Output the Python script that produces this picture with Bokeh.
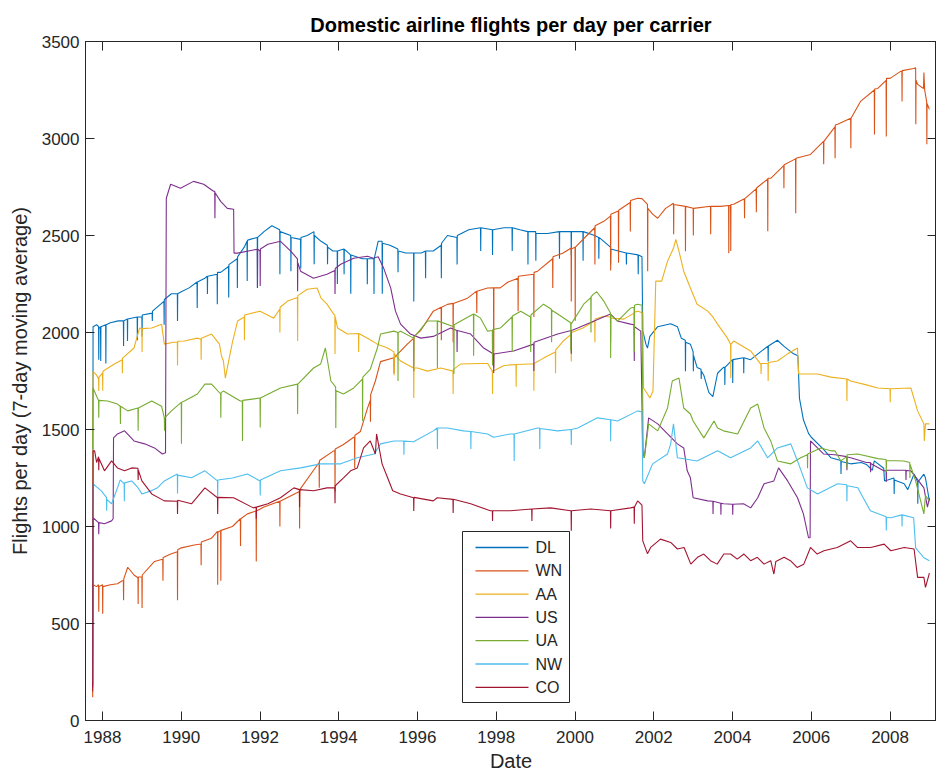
from bokeh.plotting import figure
from bokeh.models import Range1d, FixedTicker, LinearAxis, BoxAnnotation, Arrow, Label
from bokeh.embed import file_html
from bokeh.resources import INLINE

TITLE = "Domestic airline flights per day per carrier"
X_LABEL = "Date"
Y_LABEL = "Flights per day (7-day moving average)"
CARRIERS = ["DL", "WN", "AA", "US", "UA", "NW", "CO"]
COLORS = ["#0072BD", "#D95319", "#EDB120", "#7E2F8E", "#77AC30", "#4DBEEE", "#A2142F"]
YEAR_TICKS = [1988, 1990, 1992, 1994, 1996, 1998, 2000, 2002, 2004, 2006, 2008]
VALUE_TICKS = [0, 500, 1000, 1500, 2000, 2500, 3000, 3500]

# (decimal year, flights per day)
DL = [(1987.75,180),(1987.76,2030),(1987.85,2040),(1987.9,2030),(1987.905,1860),(1987.91,2020),
(1987.95,2030),(1987.955,1853),(1987.96,2030),(1988.08,2040),(1988.085,1840),(1988.09,2040),(1988.2,2050),(1988.4,2060),(1988.53,2060),(1988.535,1930),(1988.54,2060),
(1988.63,2070),(1988.635,1956),(1988.64,2070),(1988.88,2080),(1988.885,1960),(1988.89,2080),(1989.0,2080),(1989.005,1980),(1989.01,2090),
(1989.26,2100),(1989.265,2059),(1989.27,2110),(1989.5,2150),(1989.56,2160),(1989.565,2040),(1989.57,2170),(1989.75,2200),(1989.9,2200),(1989.905,2059),(1989.91,2200),
(1990.0,2210),(1990.2,2230),(1990.4,2260),(1990.405,2126),(1990.41,2260),(1990.6,2280),(1990.66,2290),(1990.665,2198),(1990.67,2290),(1990.91,2300),(1990.915,2146),(1990.92,2310),
(1991.0,2310),(1991.2,2340),(1991.205,2180),(1991.21,2350),(1991.42,2380),(1991.425,2229),(1991.43,2390),(1991.6,2440),(1991.67,2470),(1991.675,2265),(1991.68,2475),(1991.75,2480),(1991.93,2490),(1991.935,2230),(1991.94,2490),
(1992.1,2520),(1992.3,2550),(1992.5,2530),(1992.505,2300),(1992.51,2520),(1992.78,2500),(1992.785,2316),(1992.79,2490),(1993.03,2480),(1993.035,2330),(1993.04,2490),
(1993.2,2500),(1993.37,2520),(1993.375,2352),(1993.38,2500),(1993.55,2470),(1993.71,2450),(1993.715,2352),(1993.72,2440),(1993.85,2420),(1993.96,2420),(1993.965,2250),(1993.97,2420),
(1994.13,2430),(1994.135,2300),(1994.14,2430),(1994.3,2400),(1994.305,2200),(1994.31,2400),(1994.6,2380),(1994.72,2380),(1994.725,2249),(1994.73,2380),(1994.89,2380),(1994.895,2198),(1994.9,2380),
(1995.0,2470),(1995.1,2470),(1995.105,2200),(1995.11,2460),(1995.3,2450),(1995.5,2430),(1995.505,2310),(1995.51,2420),(1995.7,2410),(1995.9,2410),(1995.905,2160),(1995.91,2410),
(1996.1,2410),(1996.2,2420),(1996.205,2280),(1996.21,2420),(1996.4,2420),(1996.6,2450),(1996.605,2280),(1996.61,2460),(1996.76,2500),(1997.0,2490),(1997.005,2350),(1997.01,2500),
(1997.3,2530),(1997.6,2540),(1997.605,2420),(1997.61,2540),(1997.9,2530),(1997.905,2400),(1997.91,2530),
(1998.2,2540),(1998.4,2540),(1998.405,2420),(1998.41,2540),(1998.6,2530),(1998.8,2520),(1998.805,2350),(1998.81,2520),(1999.0,2520),(1999.005,2370),(1999.01,2510),
(1999.3,2510),(1999.6,2520),(1999.605,2380),(1999.61,2520),(1999.9,2520),(1999.905,2400),(1999.91,2520),(2000.2,2520),(2000.205,2370),(2000.21,2520),
(2000.5,2500),(2000.6,2490),(2000.605,2380),(2000.61,2490),(2000.9,2440),(2000.905,2350),(2000.91,2430),(2001.1,2420),(2001.3,2410),(2001.305,2350),(2001.31,2410),
(2001.6,2400),(2001.605,2300),(2001.61,2400),(2001.7,2390),(2001.72,2010),(2001.8,1940),(2001.84,1920),(2001.9,1980),
(2002.1,2030),(2002.43,2045),(2002.6,2030),(2002.7,1970),(2002.8,1960),(2002.805,1800),(2002.81,1950),(2002.93,1940),(2003.0,1900),(2003.005,1800),(2003.01,1880),
(2003.1,1820),(2003.2,1810),(2003.205,1760),(2003.21,1800),(2003.27,1780),(2003.4,1690),(2003.5,1670),(2003.62,1790),(2003.77,1820),(2003.8,1820),(2003.805,1730),(2003.81,1820),(2003.95,1850),(2004.0,1860),(2004.005,1740),(2004.01,1860),
(2004.28,1870),(2004.285,1790),(2004.29,1870),(2004.46,1860),(2004.71,1900),(2004.9,1930),(2004.905,1850),(2004.91,1930),(2005.14,1960),(2005.3,1930),(2005.55,1890),(2005.66,1880),
(2005.7,1660),(2005.8,1550),(2005.93,1480),(2006.0,1460),(2006.3,1400),(2006.5,1354),(2006.75,1340),(2006.755,1271),(2006.76,1335),(2007.0,1323),(2007.27,1330),(2007.4,1320),(2007.55,1290),(2007.6,1338),(2007.84,1300),(2007.86,1235),
(2008.1,1250),(2008.105,1168),(2008.11,1240),(2008.36,1220),(2008.45,1190),(2008.61,1271),(2008.7,1230),(2008.705,1117),(2008.71,1230),(2008.86,1270),(2008.9,1250),(2009.0,1130)]

WN = [(1987.75,120),(1987.76,700),(1987.85,690),(1987.9,700),(1987.905,560),(1987.91,690),(1988.0,700),(1988.005,550),(1988.01,690),
(1988.2,700),(1988.38,705),(1988.5,720),(1988.53,720),(1988.535,620),(1988.54,730),(1988.64,790),(1988.8,750),(1988.9,736),(1988.905,600),(1988.91,740),(1989.0,740),(1989.005,580),(1989.01,750),
(1989.32,820),(1989.5,830),(1989.53,830),(1989.535,720),(1989.54,840),(1989.75,860),(1989.9,870),(1989.905,620),(1989.91,880),(1990.0,890),
(1990.33,905),(1990.5,910),(1990.505,800),(1990.51,920),(1990.77,940),(1990.92,975),(1990.925,700),(1990.93,970),(1991.0,980),(1991.005,720),(1991.01,980),
(1991.3,1000),(1991.5,1040),(1991.505,900),(1991.51,1040),(1991.68,1065),(1991.9,1080),(1991.905,820),(1991.91,1080),(1992.1,1100),
(1992.5,1130),(1992.505,1000),(1992.51,1130),(1992.8,1160),(1993.0,1180),(1993.005,990),(1993.01,1190),(1993.36,1290),(1993.5,1330),(1993.505,1200),(1993.51,1340),
(1993.87,1390),(1993.9,1390),(1993.905,1180),(1993.91,1400),(1994.1,1420),(1994.38,1460),(1994.4,1460),(1994.405,1300),(1994.41,1470),(1994.55,1490),
(1994.73,1610),(1994.8,1650),(1994.805,1540),(1994.81,1680),(1994.93,1750),(1995.06,1850),
(1995.4,1870),(1995.405,1790),(1995.41,1870),(1995.74,1940),(1995.9,1970),(1995.905,1800),(1995.91,1980),(1996.08,2010),(1996.4,2110),(1996.6,2130),(1996.605,1960),(1996.61,2130),
(1996.76,2145),(1996.9,2150),(1996.905,1950),(1996.91,2150),(1997.27,2177),(1997.5,2213),(1997.505,2100),(1997.51,2213),(1997.78,2229),(1997.93,2230),(1997.935,1820),(1997.94,2230),
(1998.1,2230),(1998.3,2260),(1998.55,2280),(1998.555,2110),(1998.56,2290),(1998.95,2300),(1998.955,2080),(1998.96,2310),(1999.05,2316),
(1999.43,2380),(1999.435,2230),(1999.44,2390),(1999.7,2410),(1999.89,2434),(1999.9,2434),(1999.905,2160),(1999.91,2430),(2000.0,2440),(2000.005,2060),(2000.01,2440),
(2000.3,2500),(2000.5,2540),(2000.505,2350),(2000.51,2550),(2000.73,2573),(2000.9,2600),(2000.905,2320),(2000.91,2610),(2001.08,2625),(2001.1,2625),(2001.105,2360),(2001.11,2630),
(2001.4,2670),(2001.405,2520),(2001.41,2680),(2001.59,2692),(2001.7,2690),(2001.84,2660),(2001.845,2316),(2001.85,2640),(2001.97,2610),
(2002.1,2589),(2002.3,2640),(2002.5,2666),(2002.505,2507),(2002.51,2660),(2002.8,2650),(2002.805,2419),(2002.81,2650),(2003.0,2640),(2003.005,2500),(2003.01,2640),
(2003.44,2651),(2003.445,2507),(2003.45,2650),(2003.7,2650),(2003.9,2655),(2003.905,2409),(2003.91,2655),(2003.95,2655),(2003.955,2420),(2003.96,2660),(2004.03,2661),
(2004.3,2690),(2004.305,2589),(2004.31,2690),(2004.6,2740),(2004.605,2620),(2004.61,2745),(2004.89,2790),(2004.895,2522),(2004.9,2795),(2004.97,2795),
(2005.3,2860),(2005.305,2743),(2005.31,2865),(2005.6,2895),(2005.605,2615),(2005.61,2898),(2005.98,2918),(2006.31,2985),(2006.315,2867),(2006.32,2985),
(2006.6,3060),(2006.605,2898),(2006.61,3070),(2006.67,3073),(2007.0,3104),(2007.005,2950),(2007.01,3104),(2007.25,3191),(2007.6,3250),(2007.605,3021),(2007.61,3255),
(2007.69,3258),(2007.9,3300),(2007.905,3010),(2007.91,3310),(2008.0,3310),(2008.27,3346),(2008.3,3346),(2008.305,3191),(2008.31,3350),(2008.6,3361),
(2008.65,3365),(2008.655,3073),(2008.66,3300),(2008.7,3279),(2008.85,3258),(2008.86,3340),(2008.88,3250),(2008.93,3190),(2008.935,2970),(2008.94,3180),(2009.0,3150)]

AA = [(1987.75,150),(1987.76,1800),(1987.85,1780),(1987.9,1760),(1987.905,1698),(1987.91,1770),(1988.0,1790),(1988.005,1700),(1988.01,1800),
(1988.3,1838),(1988.5,1860),(1988.505,1790),(1988.51,1868),(1988.8,1920),(1988.94,2023),(1989.0,2020),(1989.005,1900),(1989.01,2020),(1989.25,2023),
(1989.5,2043),(1989.57,1940),(1989.8,1950),(1989.9,1950),(1989.905,1830),(1989.91,1955),(1990.08,1956),(1990.41,1971),(1990.5,1965),(1990.505,1860),(1990.51,1970),
(1990.77,1992),(1990.97,1940),(1991.02,1880),(1991.07,1853),(1991.12,1765),(1991.2,1850),(1991.3,1950),(1991.43,2059),(1991.6,2080),(1991.605,1960),(1991.61,2090),
(1992.0,2110),(1992.35,2074),(1992.5,2120),(1992.505,2000),(1992.51,2130),(1992.7,2162),(1992.95,2180),(1992.955,1956),(1992.96,2190),(1993.2,2223),(1993.45,2229),(1993.55,2177),
(1993.7,2146),(1993.87,2095),(1993.9,2090),(1993.905,1889),(1993.91,2080),(1993.97,2023),(1994.22,1992),(1994.5,1995),(1994.505,1900),(1994.51,1995),(1994.73,1970),(1994.98,1940),
(1995.24,1920),(1995.4,1900),(1995.405,1780),(1995.41,1890),(1995.57,1853),(1995.9,1817),(1995.905,1662),(1995.91,1817),(1996.0,1817),(1996.25,1801),(1996.59,1817),
(1996.9,1801),(1996.905,1683),(1996.91,1810),(1997.1,1838),(1997.6,1840),(1997.78,1840),(1997.9,1801),(1997.905,1683),(1997.91,1800),
(1998.2,1830),(1998.5,1835),(1998.505,1720),(1998.51,1835),(1998.87,1838),(1998.95,1838),(1998.955,1700),(1998.96,1840),(1999.2,1868),(1999.5,1900),(1999.505,1790),(1999.51,1910),
(1999.7,1956),(1999.9,1990),(1999.905,1850),(1999.91,2000),(2000.2,2023),(2000.5,2060),(2000.505,1950),(2000.51,2070),(2000.73,2084),(2000.9,2080),(2000.905,1950),(2000.91,2075),
(2001.24,2069),(2001.5,2100),(2001.505,1980),(2001.51,2105),(2001.6,2110),(2001.72,2100),(2001.74,1714),(2001.84,1683),(2001.9,1662),(2001.98,1698),
(2002.05,2265),(2002.2,2265),(2002.35,2368),(2002.5,2434),(2002.56,2480),(2002.64,2419),(2002.76,2316),(2002.93,2229),(2003.1,2146),(2003.37,2110),(2003.5,2080),
(2003.62,2043),(2003.87,1971),(2003.95,1940),(2003.955,1765),(2003.96,1940),(2004.03,1956),(2004.46,1905),(2004.71,1838),(2004.72,1838),(2004.725,1786),(2004.73,1840),
(2004.9,1840),(2004.905,1750),(2004.91,1845),(2005.14,1853),(2005.4,1890),(2005.65,1920),(2005.68,1786),(2006.16,1786),(2006.5,1770),(2006.9,1760),(2006.905,1647),(2006.91,1760),
(2007.0,1750),(2007.4,1730),(2007.69,1714),(2008.0,1710),(2008.005,1640),(2008.01,1710),(2008.53,1714),(2008.7,1596),(2008.86,1529),(2008.87,1441),(2008.9,1530),(2009.0,1529)]

US = [(1987.75,170),(1987.76,1045),(1987.9,1020),(1987.905,960),(1987.91,1020),(1988.05,1014),(1988.23,1029),(1988.27,1040),(1988.28,1457),(1988.38,1477),(1988.56,1493),
(1988.8,1441),(1989.07,1426),(1989.32,1405),(1989.52,1374),(1989.6,1380),(1989.62,2692),(1989.73,2764),(1989.98,2743),(1990.31,2779),(1990.57,2764),(1990.82,2728),
(1990.85,2728),(1990.855,2589),(1990.86,2720),(1991.0,2676),(1991.17,2640),(1991.33,2635),(1991.34,2409),(1991.43,2409),(1991.93,2429),(1991.935,2229),(1991.94,2430),
(1992.0,2420),(1992.005,2240),(1992.01,2430),(1992.2,2455),(1992.52,2470),(1992.78,2419),(1992.95,2380),(1992.955,2213),(1992.96,2360),(1993.03,2316),(1993.36,2280),
(1993.7,2300),(1993.9,2320),(1993.905,2198),(1993.91,2330),(1994.05,2352),(1994.38,2383),(1994.73,2393),(1994.88,2383),(1995.0,2390),(1995.14,2332),(1995.32,2229),
(1995.44,2110),(1995.57,2043),(1995.82,1992),(1996.08,1971),(1996.4,1980),(1996.84,2023),(1997.0,2010),(1997.005,1900),(1997.01,2010),(1997.35,1992),(1997.68,1920),
(1997.93,1889),(1997.935,1791),(1997.94,1889),(1998.44,1905),(1998.95,1940),(1998.955,1801),(1998.96,1950),(1999.05,1956),(1999.56,1992),(1999.9,2010),(1999.905,1890),(1999.91,2010),
(2000.07,2023),(2000.65,2074),(2000.9,2095),(2001.08,2059),(2001.41,2043),(2001.5,2040),(2001.505,1853),(2001.51,2030),(2001.67,2007),(2001.72,1390),(2001.76,1354),
(2001.87,1560),(2002.1,1529),(2002.35,1477),(2002.6,1426),(2002.76,1405),(2002.85,1287),(2002.93,1251),(2003.0,1148),(2003.37,1132),(2003.5,1130),(2003.505,1065),(2003.51,1130),
(2003.7,1120),(2003.705,1060),(2003.71,1120),(2003.77,1117),(2004.0,1115),(2004.005,1060),(2004.01,1115),(2004.28,1117),(2004.46,1096),(2004.64,1148),(2004.8,1220),
(2005.05,1235),(2005.17,1302),(2005.4,1235),(2005.65,1148),(2005.8,1065),(2005.93,942),(2005.97,942),(2005.98,1441),(2006.31,1374),(2006.6,1370),(2006.9,1360),(2006.905,1290),(2006.91,1358),(2007.0,1354),
(2007.4,1330),(2007.5,1330),(2007.505,1280),(2007.51,1325),(2007.84,1287),(2007.9,1287),(2007.905,1230),(2007.91,1290),(2008.2,1290),(2008.4,1290),(2008.405,1240),(2008.41,1288),(2008.53,1287),(2008.86,1199),(2008.95,1100),(2009.0,1148)]

UA = [(1987.75,1400),(1987.76,1714),(1987.87,1662),(1987.9,1650),(1987.905,1560),(1987.91,1650),(1988.13,1647),(1988.38,1631),(1988.45,1620),(1988.455,1529),(1988.46,1620),
(1988.64,1596),(1988.9,1611),(1988.905,1493),(1988.91,1611),(1989.25,1647),(1989.5,1620),(1989.57,1560),(1989.575,1493),(1989.58,1560),(1989.75,1596),
(1990.0,1640),(1990.005,1426),(1990.01,1640),(1990.08,1647),(1990.41,1683),(1990.6,1734),(1990.77,1734),(1991.0,1683),(1991.005,1560),(1991.01,1690),(1991.07,1698),
(1991.5,1647),(1991.55,1647),(1991.555,1441),(1991.56,1650),(1992.0,1662),(1992.005,1510),(1992.01,1662),(1992.52,1714),(1992.95,1734),(1992.955,1580),(1992.96,1734),
(1993.36,1817),(1993.54,1838),(1993.66,1920),(1993.8,1750),(1993.92,1720),(1993.925,1508),(1993.93,1700),(1994.12,1683),(1994.38,1714),(1994.6,1760),(1994.605,1544),(1994.61,1770),
(1994.8,1810),(1994.98,1920),(1995.06,1992),(1995.4,2007),(1995.5,2000),(1995.505,1750),(1995.51,2000),(1995.57,2007),(1995.9,1971),(1995.905,1800),(1995.91,1975),
(1996.25,2059),(1996.5,2059),(1996.505,1817),(1996.51,2060),(1996.92,2030),(1996.925,1786),(1996.93,2040),(1997.42,2095),(1997.425,1880),(1997.43,2095),(1997.6,2074),(1997.78,2007),(1997.9,2010),(1997.905,1830),(1997.91,2015),
(1998.1,2023),(1998.4,2080),(1998.405,1900),(1998.41,2085),(1998.62,2110),(1998.87,2080),(1998.875,1900),(1998.88,2090),(1999.2,2146),(1999.4,2120),(1999.405,1950),(1999.41,2115),(1999.56,2095),(1999.89,2050),(1999.895,1905),(1999.9,2043),(2000.22,2146),(2000.4,2180),(2000.405,2000),(2000.41,2185),(2000.47,2198),
(2000.55,2210),(2000.73,2162),(2000.9,2100),(2000.905,1868),(2000.91,2090),(2001.08,2059),(2001.41,2126),(2001.5,2130),(2001.505,1900),(2001.51,2140),(2001.59,2146),(2001.7,2140),
(2001.73,1390),(2001.76,1354),(2001.87,1529),(2002.1,1493),(2002.35,1611),(2002.47,1750),(2002.64,1765),(2002.76,1611),(2002.93,1580),(2003.0,1544),(2003.27,1457),
(2003.53,1544),(2003.62,1508),(2003.77,1493),(2004.13,1477),(2004.46,1611),(2004.64,1631),(2004.8,1508),(2004.97,1441),(2005.14,1338),(2005.48,1323),(2005.73,1354),(2005.9,1370),(2005.905,1300),(2005.91,1374),(2006.24,1405),(2006.5,1390),
(2006.6,1390),(2006.75,1338),(2006.9,1360),(2006.905,1300),(2006.91,1370),(2007.18,1374),(2007.69,1350),(2007.9,1345),(2007.905,1280),(2007.91,1340),(2008.35,1338),(2008.5,1330),(2008.505,1250),(2008.51,1320),(2008.65,1235),(2008.86,1065),(2008.9,1160),(2009.0,1132)]

NW = [(1987.75,200),(1987.76,1220),(1987.97,1184),(1988.1,1150),(1988.105,1081),(1988.11,1140),(1988.23,1117),(1988.38,1199),(1988.45,1240),(1988.55,1220),(1988.555,1130),(1988.56,1225),
(1988.74,1235),(1988.9,1200),(1989.0,1168),(1989.25,1185),(1989.4,1200),(1989.57,1235),(1989.9,1271),(1989.905,1170),(1989.91,1265),(1990.26,1251),(1990.6,1287),(1990.92,1235),(1990.925,1150),(1990.93,1240),
(1991.3,1250),(1991.68,1271),(1992.0,1235),(1992.005,1160),(1992.01,1240),(1992.52,1287),(1993.03,1302),(1993.54,1323),(1994.05,1323),(1994.47,1354),(1994.9,1374),
(1995.06,1426),(1995.4,1441),(1995.65,1441),(1995.655,1370),(1995.66,1440),(1995.9,1437),(1996.4,1493),(1996.5,1508),(1996.505,1400),(1996.51,1508),(1996.76,1508),
(1997.17,1493),(1997.35,1490),(1997.355,1400),(1997.36,1490),(1997.78,1477),(1997.93,1460),(1998.36,1477),(1998.45,1477),(1998.455,1338),(1998.46,1477),(1999.05,1508),
(1999.1,1508),(1999.105,1400),(1999.11,1505),(1999.56,1493),(1999.9,1500),(1999.905,1420),(1999.91,1500),(2000.07,1508),(2000.57,1560),(2000.9,1550),(2000.905,1440),(2000.91,1550),
(2001.08,1544),(2001.59,1596),(2001.7,1590),(2001.72,1235),(2001.76,1220),(2001.97,1323),(2002.35,1374),(2002.43,1426),(2002.5,1529),(2002.6,1354),(2003.1,1338),(2003.62,1390),
(2003.95,1354),(2004.46,1405),(2004.64,1441),(2004.89,1354),(2005.14,1405),(2005.48,1426),(2005.65,1338),(2005.9,1199),(2006.16,1168),(2006.67,1220),(2006.9,1215),(2006.905,1130),(2006.91,1210),(2007.18,1200),
(2007.5,1081),(2007.9,1050),(2007.905,980),(2007.91,1048),(2008.02,1045),(2008.3,1060),(2008.305,1000),(2008.31,1060),(2008.6,1045),(2008.65,890),(2008.86,839),(2009.0,823)]

CO = [(1987.75,150),(1987.76,1390),(1987.8,1390),(1987.85,1330),(1987.9,1360),(1987.905,1290),(1987.91,1350),(1988.05,1287),(1988.23,1338),(1988.38,1302),(1988.56,1287),(1988.74,1302),(1988.9,1300),(1988.905,1240),(1988.91,1290),(1989.0,1235),(1989.25,1168),
(1989.57,1132),(1989.9,1130),(1989.905,1065),(1989.91,1135),(1990.26,1117),(1990.6,1199),(1990.92,1148),(1990.925,1065),(1990.93,1150),(1991.33,1148),
(1991.83,1096),(1991.9,1100),(1991.905,1040),(1991.91,1100),(1992.2,1117),(1992.52,1148),(1992.86,1199),(1993.0,1190),(1993.005,1100),(1993.01,1190),
(1993.36,1184),(1993.7,1199),(1993.9,1200),(1993.905,1120),(1993.91,1210),(1994.12,1251),(1994.3,1287),(1994.47,1302),(1994.63,1405),(1994.8,1441),(1994.93,1374),(1994.96,1477),
(1995.1,1323),(1995.24,1251),(1995.37,1184),(1995.57,1168),(1995.9,1148),(1995.905,1080),(1995.91,1150),(1996.4,1132),(1996.5,1148),(1996.9,1140),(1996.905,1070),(1996.91,1140),
(1997.35,1117),(1997.85,1081),(1997.9,1081),(1997.905,1029),(1997.91,1081),(1998.36,1081),(1998.9,1090),(1998.905,1029),(1998.91,1090),(1999.38,1096),
(1999.89,1081),(1999.9,1081),(1999.905,978),(1999.91,1081),(2000.4,1090),(2000.9,1081),(2000.905,990),(2000.91,1081),(2001.41,1096),(2001.5,1100),(2001.505,1014),(2001.51,1100),
(2001.59,1132),(2001.7,1110),(2001.72,926),(2001.84,860),(2001.92,892),(2002.17,935),(2002.43,918),(2002.6,884),(2002.77,892),(2002.94,806),(2003.11,841),(2003.27,858),
(2003.44,824),(2003.61,806),(2003.78,858),(2003.95,858),(2004.12,832),(2004.29,858),(2004.46,824),(2004.63,841),(2004.8,806),(2004.97,824),(2005.05,755),(2005.1,820),
(2005.31,841),(2005.47,824),(2005.64,789),(2005.81,806),(2005.98,892),(2006.15,858),(2006.32,875),(2006.66,892),(2007.0,926),(2007.17,892),(2007.51,892),(2007.85,909),
(2008.02,875),(2008.36,892),(2008.61,884),(2008.7,738),(2008.86,738),(2008.9,686),(2009.0,760)]

SERIES = [DL, WN, AA, US, UA, NW, CO]

INK = "#262626"
FONT = "Liberation Sans"

p = figure(width=936, height=775, output_backend="svg", toolbar_location=None,
           x_range=Range1d(1987.568, 2009.18), y_range=Range1d(0, 3500),
           min_border_left=85, min_border_right=0, min_border_top=41, min_border_bottom=55,
           title=TITLE, background_fill_color="white", border_fill_color="white")
p.grid.visible = False
p.outline_line_color = INK
p.outline_line_width = 1

p.title.align = "center"
p.title.text_font = FONT
p.title.text_font_size = "20px"
p.title.text_font_style = "bold"
p.title.text_color = "black"
p.title.standoff = 12

p.xaxis.ticker = FixedTicker(ticks=YEAR_TICKS)
p.yaxis.ticker = FixedTicker(ticks=VALUE_TICKS)
p.xaxis.axis_label = X_LABEL
p.yaxis.axis_label = Y_LABEL

def style_axis(ax, ticks, labels=True):
    ax.axis_line_color = INK
    ax.major_tick_line_color = INK
    ax.major_tick_in = 9
    ax.major_tick_out = 0
    ax.minor_tick_line_color = None
    ax.major_label_text_font = FONT
    ax.major_label_text_color = INK
    ax.axis_label_text_font = FONT
    ax.axis_label_text_font_style = "normal"
    ax.axis_label_text_color = INK
    ax.axis_label_text_font_size = "20px"
    ax.major_label_text_font_size = "17px"
    if not labels:
        ax.major_label_overrides = {t: "" for t in ticks}
        ax.major_label_standoff = 0
        ax.major_label_text_font_size = "1px"

style_axis(p.xaxis[0], YEAR_TICKS)
style_axis(p.yaxis[0], VALUE_TICKS)
p.xaxis[0].major_label_standoff = 10
p.xaxis[0].axis_label_standoff = 4
p.xaxis[0].major_label_text_line_height = 1.0
p.xaxis[0].axis_label_text_line_height = 1.0
p.yaxis[0].major_label_standoff = 6
p.yaxis[0].axis_label_standoff = 8

top_ax = LinearAxis(ticker=FixedTicker(ticks=YEAR_TICKS))
right_ax = LinearAxis(ticker=FixedTicker(ticks=VALUE_TICKS))
style_axis(top_ax, YEAR_TICKS, labels=False)
style_axis(right_ax, VALUE_TICKS, labels=False)
p.add_layout(top_ax, "above")
p.add_layout(right_ax, "right")

for name, color, data in zip(CARRIERS, COLORS, SERIES):
    xs = [d[0] for d in data]
    ys = [d[1] for d in data]
    p.line(xs, ys, line_color=color, line_width=1.1)

# legend box drawn from annotations (screen offsets from the frame's lower-left corner)
LEG_LEFT, LEG_BOTTOM, LEG_W, LEG_H = 377, 18, 107, 171
ROW_TOP, ROW_STEP = 173, 23.3
SW_X0, SW_X1, TXT_X = 390, 443, 450
p.add_layout(BoxAnnotation(left=LEG_LEFT, right=LEG_LEFT + LEG_W, bottom=LEG_BOTTOM, top=LEG_BOTTOM + LEG_H,
                           left_units="screen", right_units="screen", bottom_units="screen", top_units="screen",
                           fill_color="white", fill_alpha=1, line_color=INK, line_width=1, line_alpha=1))
for i, (name, color) in enumerate(zip(CARRIERS, COLORS)):
    yy = ROW_TOP - i * ROW_STEP
    p.add_layout(Arrow(end=None, x_start=SW_X0, y_start=yy, x_end=SW_X1, y_end=yy,
                       start_units="screen", end_units="screen", line_color=color, line_width=1.3))
    p.add_layout(Label(x=TXT_X, y=yy, x_units="screen", y_units="screen", text=name,
                       text_font=FONT, text_font_size="16px", text_color=INK,
                       text_baseline="middle", text_align="left"))

open("out.html", "w").write(file_html(p, INLINE))
